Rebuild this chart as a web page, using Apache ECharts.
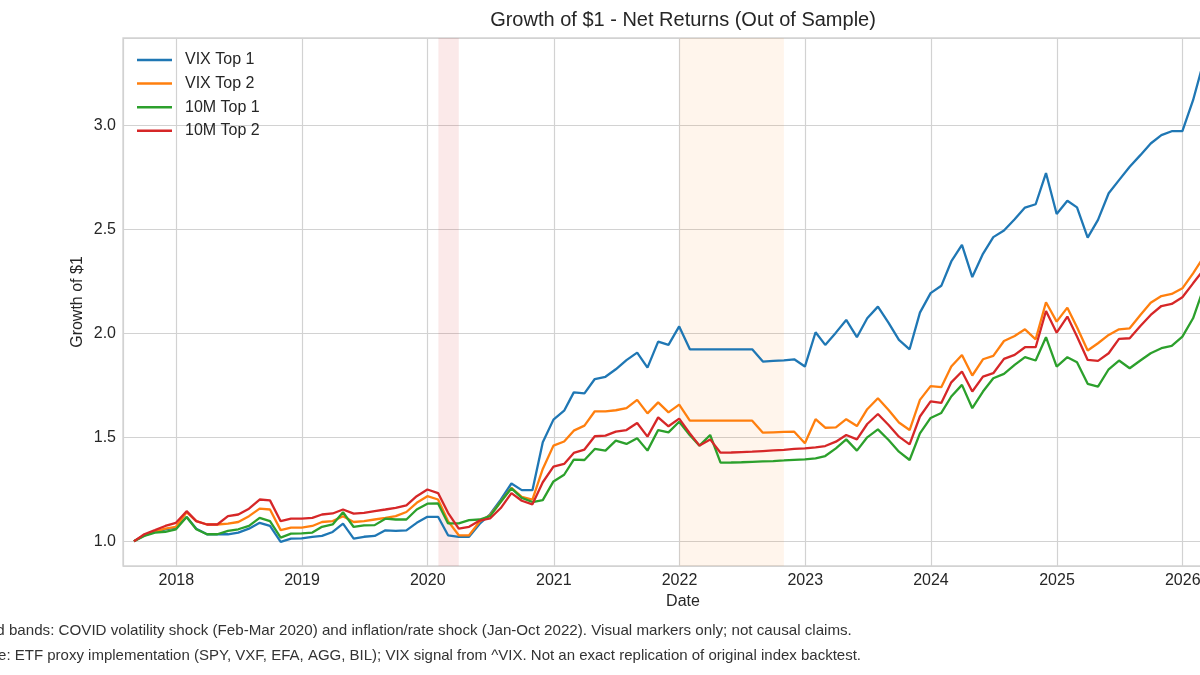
<!DOCTYPE html>
<html>
<head>
<meta charset="utf-8">
<title>Growth of $1 - Net Returns (Out of Sample)</title>
<script src="https://cdn.jsdelivr.net/npm/echarts@6.0.0/dist/echarts.min.js"></script>
<style>
  html,body{margin:0;padding:0;background:#fff;}
  #chart{width:1200px;height:675px;}
</style>
</head>
<body>
<div id="chart"></div>
<script>
// month-end dates of the out-of-sample period
var dates = [
  '2017-08-31','2017-09-30','2017-10-31','2017-11-30','2017-12-31',
  '2018-01-31','2018-02-28','2018-03-31','2018-04-30','2018-05-31','2018-06-30','2018-07-31','2018-08-31','2018-09-30','2018-10-31','2018-11-30','2018-12-31',
  '2019-01-31','2019-02-28','2019-03-31','2019-04-30','2019-05-31','2019-06-30','2019-07-31','2019-08-31','2019-09-30','2019-10-31','2019-11-30','2019-12-31',
  '2020-01-31','2020-02-29','2020-03-31','2020-04-30','2020-05-31','2020-06-30','2020-07-31','2020-08-31','2020-09-30','2020-10-31','2020-11-30','2020-12-31',
  '2021-01-31','2021-02-28','2021-03-31','2021-04-30','2021-05-31','2021-06-30','2021-07-31','2021-08-31','2021-09-30','2021-10-31','2021-11-30','2021-12-31',
  '2022-01-31','2022-02-28','2022-03-31','2022-04-30','2022-05-31','2022-06-30','2022-07-31','2022-08-31','2022-09-30','2022-10-31','2022-11-30','2022-12-31',
  '2023-01-31','2023-02-28','2023-03-31','2023-04-30','2023-05-31','2023-06-30','2023-07-31','2023-08-31','2023-09-30','2023-10-31','2023-11-30','2023-12-31',
  '2024-01-31','2024-02-29','2024-03-31','2024-04-30','2024-05-31','2024-06-30','2024-07-31','2024-08-31','2024-09-30','2024-10-31','2024-11-30','2024-12-31',
  '2025-01-31','2025-02-28','2025-03-31','2025-04-30','2025-05-31','2025-06-30','2025-07-31','2025-08-31','2025-09-30','2025-10-31','2025-11-30','2025-12-31',
  '2026-01-31','2026-02-28'
];

var vixTop1 = [
  1.000,1.029,1.046,1.058,1.066,
  1.117,1.061,1.034,1.034,1.034,1.042,1.061,1.089,1.074,0.997,1.013,1.014,
  1.021,1.026,1.045,1.085,1.013,1.022,1.026,1.053,1.050,1.053,1.089,1.118,
  1.118,1.029,1.022,1.022,1.085,1.130,1.200,1.278,1.246,1.246,1.476,1.585,
  1.628,1.716,1.711,1.780,1.791,1.827,1.871,1.907,1.835,1.960,1.944,2.033,
  1.923,1.923,1.923,1.923,1.923,1.923,1.923,1.864,1.867,1.870,1.875,1.840,
  2.005,1.944,2.003,2.064,1.981,2.072,2.128,2.050,1.968,1.923,2.099,2.193,
  2.228,2.345,2.425,2.270,2.382,2.462,2.494,2.548,2.604,2.620,2.770,2.573,
  2.637,2.605,2.460,2.545,2.673,2.736,2.800,2.856,2.912,2.952,2.971,2.971,
  3.120,3.290
];

var vixTop2 = [
  1.000,1.029,1.046,1.061,1.070,
  1.140,1.097,1.081,1.081,1.085,1.093,1.121,1.157,1.153,1.054,1.066,1.066,
  1.074,1.093,1.097,1.121,1.093,1.097,1.105,1.113,1.121,1.141,1.185,1.217,
  1.201,1.097,1.029,1.029,1.095,1.125,1.190,1.257,1.214,1.201,1.348,1.460,
  1.480,1.532,1.556,1.625,1.625,1.630,1.640,1.680,1.615,1.668,1.620,1.657,
  1.580,1.580,1.580,1.580,1.580,1.580,1.580,1.522,1.524,1.526,1.527,1.471,
  1.587,1.546,1.548,1.587,1.554,1.635,1.688,1.631,1.571,1.535,1.680,1.746,
  1.741,1.840,1.896,1.797,1.875,1.891,1.963,1.987,2.019,1.971,2.149,2.056,
  2.123,2.029,1.917,1.952,1.992,2.019,2.024,2.088,2.147,2.179,2.189,2.216,
  2.288,2.360
];

var tenMTop1 = [
  1.000,1.026,1.042,1.046,1.058,
  1.117,1.058,1.034,1.034,1.050,1.058,1.074,1.113,1.097,1.018,1.037,1.038,
  1.042,1.070,1.081,1.140,1.069,1.077,1.078,1.109,1.105,1.105,1.153,1.181,
  1.182,1.086,1.086,1.102,1.105,1.121,1.190,1.255,1.209,1.189,1.198,1.288,
  1.320,1.393,1.391,1.444,1.436,1.484,1.468,1.495,1.436,1.535,1.524,1.575,
  1.510,1.460,1.511,1.378,1.379,1.380,1.382,1.384,1.386,1.389,1.392,1.394,
  1.399,1.410,1.447,1.490,1.436,1.500,1.538,1.487,1.431,1.391,1.519,1.593,
  1.617,1.696,1.752,1.640,1.720,1.784,1.805,1.848,1.885,1.869,1.981,1.840,
  1.885,1.861,1.757,1.744,1.827,1.869,1.832,1.869,1.904,1.928,1.939,1.984,
  2.072,2.205
];

var tenMTop2 = [
  1.000,1.034,1.054,1.074,1.089,
  1.145,1.097,1.081,1.081,1.121,1.129,1.157,1.201,1.197,1.097,1.109,1.109,
  1.113,1.129,1.134,1.153,1.133,1.137,1.145,1.153,1.161,1.173,1.217,1.249,
  1.232,1.137,1.061,1.070,1.100,1.110,1.160,1.232,1.195,1.178,1.284,1.359,
  1.372,1.425,1.441,1.505,1.508,1.527,1.535,1.569,1.503,1.596,1.553,1.590,
  1.519,1.460,1.490,1.426,1.427,1.429,1.431,1.434,1.437,1.440,1.444,1.447,
  1.452,1.458,1.479,1.511,1.490,1.564,1.612,1.559,1.503,1.466,1.600,1.673,
  1.665,1.764,1.816,1.720,1.792,1.808,1.877,1.896,1.933,1.933,2.107,2.003,
  2.080,1.984,1.872,1.867,1.904,1.973,1.976,2.035,2.088,2.131,2.141,2.173,
  2.240,2.300
];

var seriesNames = ['VIX Top 1','VIX Top 2','10M Top 1','10M Top 2'];
var seriesColors = ['#1f77b4','#ff7f0e','#2ca02c','#d62728'];

// shaded event windows
var covidBand = ['2020-02-01','2020-03-31'];
var rateBand = ['2022-01-01','2022-10-31'];

var notes = [
  'Shaded bands: COVID volatility shock (Feb-Mar 2020) and inflation/rate shock (Jan-Oct 2022). Visual markers only; not causal claims.',
  'Note: ETF proxy implementation (SPY, VXF, EFA, AGG, BIL); VIX signal from ^VIX. Not an exact replication of original index backtest.'
];

var FONT = '"Liberation Sans", Arial, sans-serif';
var TXT = '#262626';
var GRIDC = '#d2d2d2';

function toPairs(vals){
  var res = [];
  for(var i=0;i<vals.length;i++){
    res.push([dates[i], vals[i]]);
  }
  return res;
}

var yearMs = 365.25*24*3600*1000;
var xMin = new Date(2018,0,1).getTime() - 0.4237*yearMs;
var xMax = new Date(2026,0,1).getTime() + 0.479*yearMs;

var allVals = [vixTop1, vixTop2, tenMTop1, tenMTop2];
var series = [];
for(var s=0;s<allVals.length;s++){
  var item = {
    name: seriesNames[s],
    type: 'line',
    data: toPairs(allVals[s]),
    showSymbol: false,
    symbol: 'none',
    lineStyle: {width: 2.3, color: seriesColors[s]},
    itemStyle: {color: seriesColors[s]},
    z: 3 + s
  };
  if(s === 0){
    item.markArea = {
      silent: true,
      z: 1,
      data: [
        [{xAxis: covidBand[0], itemStyle: {color: 'rgba(214,39,40,0.1)'}}, {xAxis: covidBand[1]}],
        [{xAxis: rateBand[0], itemStyle: {color: 'rgba(255,127,14,0.08)'}}, {xAxis: rateBand[1]}]
      ]
    };
  }
  series.push(item);
}

var chart = echarts.init(document.getElementById('chart'), null, {renderer: 'canvas'});
chart.setOption({
  animation: false,
  backgroundColor: '#ffffff',
  textStyle: {fontFamily: FONT},
  title: {
    text: 'Growth of $1 - Net Returns (Out of Sample)',
    left: 683,
    top: 10,
    padding: 0,
    textAlign: 'center',
    textStyle: {fontSize: 20, fontWeight: 'normal', color: TXT, fontFamily: FONT}
  },
  legend: {
    data: seriesNames,
    orient: 'vertical',
    left: 137,
    top: 51,
    padding: 0,
    itemWidth: 35,
    itemHeight: 2.5,
    itemGap: 5.6,
    icon: 'rect',
    textStyle: {fontSize: 16, color: TXT, fontFamily: FONT, lineHeight: 18, padding: [0,0,0,8]}
  },
  grid: {
    left: 123,
    top: 38,
    width: 1120,
    height: 528,
    outerBoundsMode: 'none',
    containLabel: false,
    show: true,
    borderColor: GRIDC,
    borderWidth: 1.3,
    backgroundColor: 'transparent'
  },
  xAxis: {
    type: 'time',
    min: xMin,
    max: xMax,
    splitNumber: 10,
    minInterval: 360*24*3600*1000,
    name: 'Date',
    nameLocation: 'middle',
    nameGap: 28,
    nameMoveOverlap: false,
    nameTextStyle: {fontSize: 16, color: TXT, fontFamily: FONT},
    axisLine: {show: false},
    axisTick: {show: false},
    axisLabel: {
      fontSize: 16, color: TXT, fontFamily: FONT, margin: 7,
      showMinLabel: false, showMaxLabel: false,
      formatter: '{yyyy}'
    },
    splitLine: {show: true, lineStyle: {color: GRIDC, width: 1.2}}
  },
  yAxis: {
    type: 'value',
    min: 0.8815,
    max: 3.419,
    splitNumber: 5,
    name: 'Growth of $1',
    nameLocation: 'middle',
    nameGap: 37,
    nameMoveOverlap: false,
    nameTextStyle: {fontSize: 16, color: TXT, fontFamily: FONT},
    axisLine: {show: false},
    axisTick: {show: false},
    axisLabel: {
      fontSize: 16, color: TXT, fontFamily: FONT, margin: 7,
      showMinLabel: false, showMaxLabel: false,
      formatter: function(v){ return v.toFixed(1); }
    },
    splitLine: {show: true, lineStyle: {color: GRIDC, width: 1.2}}
  },
  graphic: [
    {type: 'text', x: -47.5, y: 631, silent: true,
      style: {text: notes[0], fontSize: 15.15, fill: '#333333', fontFamily: FONT, verticalAlign: 'middle'}},
    {type: 'text', x: -25.3, y: 656, silent: true,
      style: {text: notes[1], fontSize: 15, fill: '#333333', fontFamily: FONT, verticalAlign: 'middle'}}
  ],
  series: series
});
</script>
</body>
</html>
